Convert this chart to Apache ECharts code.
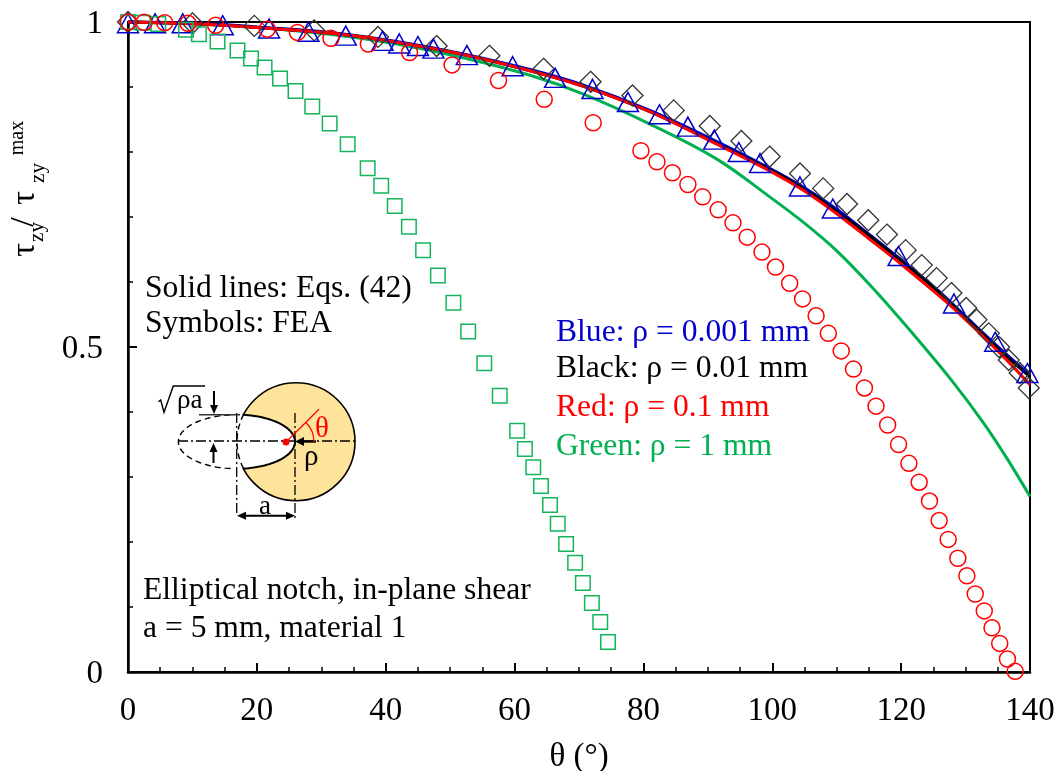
<!DOCTYPE html>
<html><head><meta charset="utf-8">
<style>html,body{margin:0;padding:0;background:#fff}#c{width:1059px;height:771px}</style>
<script src="https://cdn.jsdelivr.net/npm/echarts@6/dist/echarts.min.js"></script>
</head><body><div id="c"></div>
<script>
// FEA symbols
const blueTheta  = [0,4.2,8.5,14.7,21.9,28.0,33.8,39.5,42.1,45.0,47.4,52.6,59.7,66.3,72.1,77.6,82.5,86.9,91.0,94.8,98.1,104.3,109.4,119.6,128.2,134.6,139.6];
const blueTau    = [0.998,0.998,0.998,0.995,0.990,0.985,0.979,0.971,0.967,0.963,0.959,0.949,0.932,0.914,0.897,0.877,0.858,0.839,0.819,0.800,0.783,0.747,0.713,0.640,0.567,0.508,0.460];
const blackTheta = [0,10,19.6,28.9,38.8,47.9,56.1,64.5,71.8,78.3,84.7,90.3,95.2,99.6,104.3,107.9,111.6,114.9,117.8,120.7,123.2,125.5,127.8,130.1,131.7,133.6,135.2,136.7,138.4,139.8];
const blackTau   = [1,0.998,0.994,0.987,0.977,0.963,0.948,0.928,0.908,0.887,0.864,0.840,0.817,0.793,0.767,0.744,0.720,0.695,0.673,0.649,0.626,0.606,0.583,0.560,0.542,0.521,0.500,0.480,0.460,0.437];
const redTheta   = [0,2.5,5.7,9.3,13.6,21.6,26.3,31.5,37.3,43.7,50.3,57.5,64.6,72.2,79.6,82.1,84.5,86.9,89.2,91.6,93.9,96.1,98.4,100.5,102.7,104.7,106.8,108.7,110.7,112.6,114.3,116.1,117.9,119.6,121.2,122.8,124.4,125.9,127.3,128.8,130.2,131.5,132.9,134.1,135.3,136.5,137.7];
const redTau     = [1,0.9995,0.999,0.998,0.995,0.989,0.984,0.975,0.966,0.953,0.934,0.910,0.881,0.845,0.802,0.785,0.768,0.750,0.731,0.711,0.691,0.669,0.646,0.623,0.598,0.574,0.548,0.521,0.494,0.466,0.437,0.409,0.380,0.350,0.321,0.292,0.263,0.233,0.204,0.175,0.148,0.120,0.094,0.068,0.044,0.020,0.001];
const greenTheta = [0,2.3,4.7,9.0,11.0,13.9,17.0,19.1,21.2,23.6,26.0,28.6,31.3,34.1,37.2,39.3,41.4,43.6,45.8,48.1,50.5,52.8,55.3,57.7,60.4,61.6,62.9,64.1,65.5,66.7,68.0,69.4,70.6,72.0,73.3,74.5];
const greenTau   = [1,0.999,0.997,0.988,0.981,0.970,0.956,0.944,0.930,0.913,0.894,0.870,0.844,0.812,0.775,0.748,0.717,0.685,0.649,0.610,0.568,0.524,0.475,0.425,0.371,0.343,0.315,0.286,0.257,0.228,0.197,0.168,0.137,0.106,0.077,0.046];
// Eqs. (42) solid lines
const lineBlueTheta  = [0,11.2,20.5,31.35,41.7,52,62.4,70.7,81,91.4,99.6,104.8,110,115.2,120.3,125.5,130,135.3,140];
const lineBlueTau    = [1,0.998,0.992,0.984,0.970,0.951,0.927,0.903,0.864,0.816,0.775,0.746,0.712,0.672,0.632,0.589,0.547,0.498,0.457];
const lineBlackTheta = [0,11.2,20.5,31.35,41.7,52,62.4,70.7,81,91.4,99.6,104.8,110,115.2,120.3,125.5,130,135.3,140];
const lineBlackTau   = [1,0.997,0.991,0.983,0.969,0.950,0.925,0.901,0.862,0.813,0.773,0.744,0.709,0.670,0.630,0.587,0.545,0.495,0.454];
const lineRedTheta   = [0,11.2,20.5,31.35,41.7,52,62.4,70.7,81,91.4,99.6,104.8,110,115.2,120.3,125.5,128.6,135.3,140];
const lineRedTau     = [1,0.997,0.991,0.983,0.969,0.950,0.925,0.901,0.862,0.812,0.771,0.741,0.705,0.665,0.625,0.582,0.555,0.491,0.442];
const lineGreenTheta = [0,12.7,22,31.35,41.7,52,62.4,70.7,81,91.4,99.6,104.8,110,115.2,120.9,127.8,132.8,136.4,140];
const lineGreenTau   = [1,0.996,0.990,0.981,0.966,0.945,0.918,0.889,0.843,0.789,0.731,0.692,0.648,0.595,0.531,0.449,0.383,0.329,0.270];
const yTickLabels = {0:'0',0.5:'0.5',1:'1'};

const zip=(a,b)=>a.map((v,i)=>[v,b[i]]);
const BLUE='#0000CC',RED='#FF0000',GREEN='#00B050',SERIF='"Liberation Serif","Times New Roman",serif';
const lineS=(name,t,v,color,w)=>({name,type:'line',data:zip(t,v),smooth:0.35,showSymbol:false,symbol:'none',clip:false,silent:true,z:3,lineStyle:{color,width:w}});
const symS=(name,t,v,symbol,size,color,bw)=>({name,type:'scatter',data:zip(t,v),symbol,symbolSize:size,clip:false,z:5,itemStyle:{color:'rgba(0,0,0,0)',borderColor:color,borderWidth:bw,opacity:1}});

const txt=(text,x,y,size,fill,extra)=>Object.assign({type:'text',x,y,z:10,style:{text,fill:fill||'#000',font:size+'px '+SERIF,textAlign:'left',textVerticalAlign:'middle'}},extra||{});
const rot=(text,x,y,size)=>txt(text,x,y,size,'#000',{rotation:Math.PI/2,style:{text,fill:'#000',font:size+'px '+SERIF,textAlign:'center',textVerticalAlign:'middle'}});
const poly=(pts,stroke,w,dash)=>({type:'polyline',z:8,shape:{points:pts},style:{stroke,lineWidth:w,fill:null,lineDash:dash||null}});
const head=(pts,fill)=>({type:'polygon',z:9,shape:{points:pts},style:{fill:fill||'#000'}});
// diagram geometry
const cx=296,cy=441.7,R=59,ex=236.7,ea=58.3,eb=27;
const earc=(a0,a1)=>{const p=[];for(let i=0;i<=60;i++){const t=(a0+(a1-a0)*i/60)*Math.PI/180;p.push([ex+ea*Math.cos(t),cy+eb*Math.sin(t)]);}return p;};
const diagram=[
 {type:'circle',z:6,shape:{cx,cy,r:R},style:{fill:'#FEE39B',stroke:'#000',lineWidth:1.6}},
 {type:'ellipse',z:7,shape:{cx:ex,cy,rx:ea,ry:eb},style:{fill:'#fff',stroke:null}},
 poly(earc(-84,84),'#000',2),
 poly(earc(96,264),'#000',1.4,[6,4]),
 {type:'arc',z:8,shape:{cx,cy,r:R,startAngle:Math.PI*0.85,endAngle:Math.PI*1.15},style:{stroke:'#000',lineWidth:1.4,fill:null,lineDash:[6,4]}},
 poly([[178,441],[355,441]],'#000',1.3,[10,3,2,3]),
 poly([[236.7,413],[236.7,513]],'#000',1.3,[10,3,2,3]),
 poly([[295,413],[295,518]],'#000',1.3,[10,3,2,3]),
 poly([[199,414.7],[240,414.7]],'#333',1.6),
 poly([[214,391],[214,408]],'#000',2), head([[214,414],[210,405],[218,405]]),
 poly([[213.5,463],[213.5,449]],'#000',2), head([[213.5,443],[209.5,452],[217.5,452]]),
 poly([[242,515.7],[290,515.7]],'#000',2), head([[237,515.7],[246,511.7],[246,519.7]]), head([[295,515.7],[286,511.7],[286,519.7]]),
 poly([[300,441.5],[316,441.5]],'#000',2.4), head([[295,441.5],[304,437],[304,446]]),
 poly([[158.3,401.7],[160.7,400],[164,412.3],[173.3,386],[205,386]],'#000',1.4),
 poly([[286,442],[319,409.3]],RED,1.2),
 {type:'arc',z:8,shape:{cx:286,cy:442,r:28,startAngle:-Math.PI/4,endAngle:0},style:{stroke:RED,lineWidth:1.2,fill:null}},
 {type:'circle',z:9,shape:{cx:286,cy:442,r:3.5},style:{fill:RED}},
 txt('θ',315,429,29,RED),
 txt('ρ',304,457,29),
 txt('a',259,507,27),
 txt('ρa',177,401,27)
];
const F=31.6;
const notes=[
 txt('Solid lines: Eqs. (42)',145,289,F),
 txt('Symbols: FEA',145,324,F),
 txt('Blue: ρ = 0.001 mm',556,333,F,BLUE),
 txt('Black: ρ = 0.01 mm',556,369,F),
 txt('Red: ρ = 0.1 mm',556,408,F,RED),
 txt('Green: ρ = 1 mm',556,447,F,GREEN),
 txt('Elliptical notch, in-plane shear',143,591,F),
 txt('a = 5 mm, material 1',143,629,F),
 rot('τ',25,250,34),rot('zy',37,232,21),rot('/',24,222,34),rot('τ',25,198,34),rot('zy',38,173,21),rot('max',18,138,20)
];
const chart=echarts.init(document.getElementById('c'),null,{renderer:'canvas'});
chart.setOption({
 animation:false,backgroundColor:'#fff',
 grid:{left:128,right:29,top:22,bottom:99,show:true,outerBoundsMode:'none',borderColor:'#000',borderWidth:2,backgroundColor:'transparent',containLabel:false},
 xAxis:{type:'value',min:0,max:140,interval:20,name:'θ (°)',nameLocation:'middle',nameGap:69,
  nameTextStyle:{fontFamily:SERIF,fontSize:33,color:'#000'},
  axisLine:{show:true,onZero:false,lineStyle:{color:'#000',width:2.5}},
  axisTick:{show:true,inside:true,length:9,lineStyle:{color:'#000',width:2}},
  minorTick:{show:true,splitNumber:4,length:5,lineStyle:{color:'#000',width:1.5}},
  splitLine:{show:false},minorSplitLine:{show:false},
  axisLabel:{fontFamily:SERIF,fontSize:33,color:'#000',margin:23,showMinLabel:true,showMaxLabel:true,hideOverlap:false}},
 yAxis:{type:'value',min:0,max:1,interval:0.5,
  axisLine:{show:true,onZero:false,lineStyle:{color:'#000',width:2.5}},
  axisTick:{show:true,inside:true,length:9,lineStyle:{color:'#000',width:2}},
  minorTick:{show:true,splitNumber:5,length:5,lineStyle:{color:'#000',width:1.5}},
  splitLine:{show:false},minorSplitLine:{show:false},
  axisLabel:{fontFamily:SERIF,fontSize:33,color:'#000',margin:25,formatter:v=>'{v|'+yTickLabels[v]+'}',
   rich:{v:{fontFamily:SERIF,fontSize:33,color:'#000',padding:[4,0,0,0]}},showMinLabel:true,showMaxLabel:true,hideOverlap:false}},
 legend:{show:false},tooltip:{show:false},
 series:[
  lineS('Eqs. (42) ρ = 1 mm',lineGreenTheta,lineGreenTau,GREEN,3),
  lineS('Eqs. (42) ρ = 0.001 mm',lineBlueTheta,lineBlueTau,BLUE,3),
  lineS('Eqs. (42) ρ = 0.01 mm',lineBlackTheta,lineBlackTau,'#000',3),
  lineS('Eqs. (42) ρ = 0.1 mm',lineRedTheta,lineRedTau,RED,3),
  symS('FEA ρ = 0.01 mm',blackTheta,blackTau,'diamond',21,'#333',1.3),
  symS('FEA ρ = 0.001 mm',blueTheta,blueTau,'triangle',[21,19],BLUE,1.5),
  symS('FEA ρ = 1 mm',greenTheta,greenTau,'rect',14.5,'#14B45C',1.5),
  symS('FEA ρ = 0.1 mm',redTheta,redTau,'circle',16,RED,1.5)
 ],
 graphic:{elements:diagram.concat(notes)}
});
</script></body></html>
